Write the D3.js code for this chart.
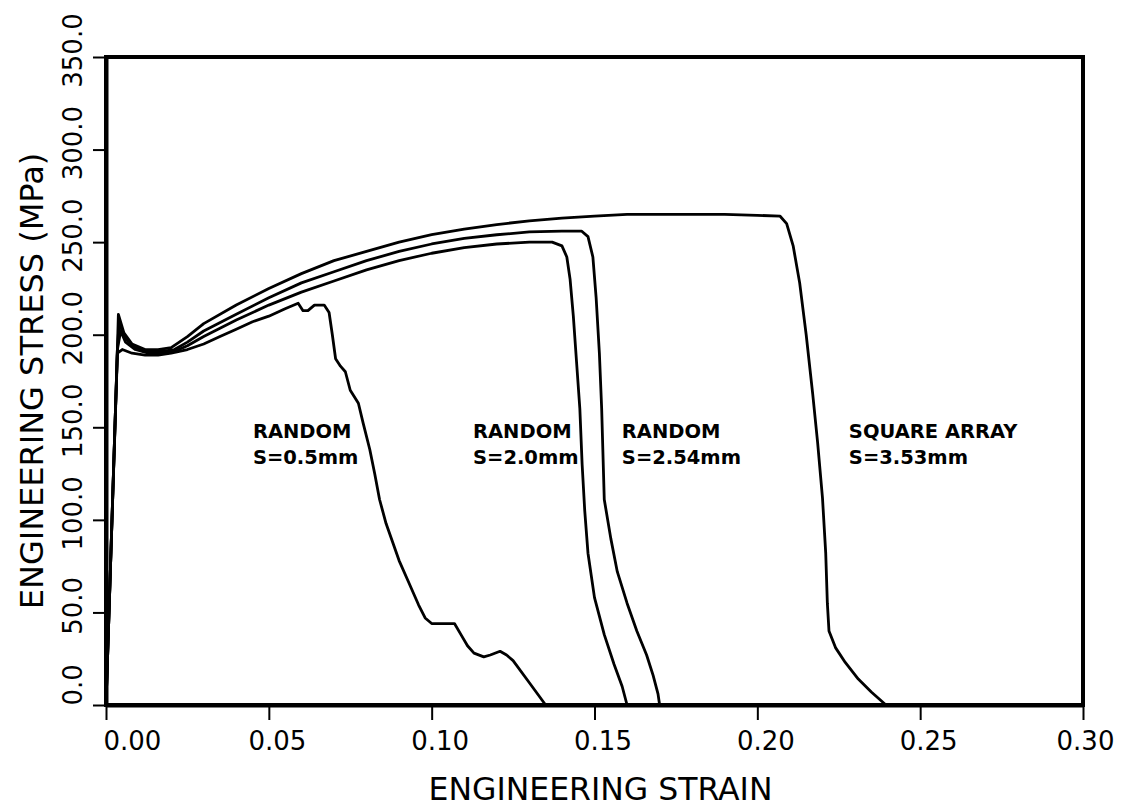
<!DOCTYPE html>
<html>
<head>
<meta charset="utf-8">
<script src="https://cdn.jsdelivr.net/npm/d3@7"></script>
<style>
  body { margin: 0; background: #fff; }
  svg { display: block; }
  text { font-family: "DejaVu Sans", sans-serif; fill: #000; }
</style>
</head>
<body>
<svg id="chart" width="1122" height="808"></svg>
<script>
// axis ticks
let strainTicks = [0, 0.05, 0.10, 0.15, 0.20, 0.25, 0.30];
let stressTicks = [0, 50, 100, 150, 200, 250, 300, 350];

// RANDOM S=0.5mm
let strain05 = [0, 0.0012, 0.0035, 0.005, 0.008, 0.012, 0.016, 0.02, 0.025, 0.03, 0.035, 0.04, 0.045, 0.05, 0.055, 0.059,
    0.0605, 0.062, 0.064, 0.067, 0.0685, 0.0695, 0.0705, 0.072, 0.0735, 0.075, 0.0775, 0.079, 0.081, 0.0825, 0.084, 0.086,
    0.088, 0.09, 0.093, 0.096, 0.098, 0.1, 0.104, 0.107, 0.109, 0.111, 0.113, 0.116, 0.118, 0.121, 0.123, 0.125, 0.13, 0.135];
let stress05 = [0, 65, 190, 192, 190, 189, 189, 190, 192, 195, 199, 203, 207, 210, 214, 217,
    213, 213, 216, 216, 212, 200, 187, 183, 180, 170, 163, 152, 138, 125, 111, 98,
    88, 78, 66, 54, 47, 44, 44, 44, 38, 32, 28, 26, 27, 29, 27, 24, 12, 0];

// RANDOM S=2.0mm
let strain20 = [0, 0.0012, 0.0035, 0.0045, 0.006, 0.009, 0.013, 0.017, 0.021, 0.025, 0.03, 0.04, 0.05, 0.06, 0.07, 0.08,
    0.09, 0.10, 0.11, 0.12, 0.13, 0.137, 0.14, 0.1415, 0.1425, 0.1435, 0.1445, 0.1455, 0.1462, 0.147, 0.148, 0.15, 0.153,
    0.156, 0.1585, 0.160];
let stress20 = [0, 65, 192, 202, 196, 192, 190, 190, 191, 194, 199, 208, 216, 223, 229, 235,
    240, 244, 247, 249, 250, 250, 248, 242, 230, 210, 185, 160, 130, 105, 82, 58, 38,
    22, 10, 0];

// RANDOM S=2.54mm
let strain254 = [0, 0.0012, 0.0035, 0.004, 0.006, 0.009, 0.013, 0.017, 0.021, 0.025, 0.03, 0.04, 0.05, 0.06, 0.07, 0.08,
    0.09, 0.10, 0.11, 0.12, 0.13, 0.14, 0.146, 0.148, 0.1495, 0.1505, 0.1515, 0.1522, 0.153, 0.155, 0.157, 0.16, 0.163,
    0.166, 0.168, 0.1695, 0.170];
let stress254 = [0, 65, 192, 206, 198, 193, 191, 191, 192, 196, 202, 211, 220, 228, 234, 240,
    245, 249, 252, 254, 255.5, 256, 256, 253, 242, 220, 190, 160, 111, 90, 72, 55, 40,
    27, 16, 6, 0];

// SQUARE ARRAY S=3.53mm
let strainSq = [0, 0.0012, 0.0035, 0.0038, 0.0055, 0.008, 0.012, 0.016, 0.02, 0.025, 0.03, 0.04, 0.05, 0.06, 0.07, 0.08,
    0.09, 0.10, 0.11, 0.12, 0.13, 0.14, 0.15, 0.16, 0.17, 0.18, 0.19, 0.2, 0.207, 0.209, 0.211, 0.213, 0.215, 0.217,
    0.2185, 0.22, 0.221, 0.2215, 0.222, 0.224, 0.227, 0.231, 0.235, 0.2395];
let stressSq = [0, 65, 192, 211, 201, 195, 192, 192, 193, 199, 206, 216, 225, 233, 240, 245,
    250, 254, 257, 259.5, 261.5, 263, 264, 265, 265, 265, 265, 264.5, 264, 260, 248, 228, 200, 168,
    142, 112, 82, 55, 40, 31, 23, 14, 7, 0];

// curve labels
let labelLine1 = ["RANDOM", "RANDOM", "RANDOM", "SQUARE ARRAY"];
let labelLine2 = ["S=0.5mm", "S=2.0mm", "S=2.54mm", "S=3.53mm"];
let labelStrain = [0.0451, 0.1127, 0.1584, 0.2281];
let labelStress = 144;

let svg = d3.select("#chart");
let plotLeft = 106, plotRight = 1083, plotTop = 57, plotBottom = 705;

let x = d3.scaleLinear().domain([0, 0.30]).range([plotLeft, plotRight]);
let y = d3.scaleLinear().domain([0, 350]).range([plotBottom, plotTop]);

// frame
svg.append("rect")
    .attr("x", plotLeft).attr("y", plotTop)
    .attr("width", plotRight - plotLeft).attr("height", plotBottom - plotTop)
    .attr("fill", "none").attr("stroke", "#000").attr("stroke-width", 4);

// x axis
let xAxis = svg.append("g")
    .attr("transform", "translate(0," + plotBottom + ")")
    .call(d3.axisBottom(x).tickValues(strainTicks).tickFormat(d3.format(".2f")).tickSize(15).tickSizeOuter(0));
xAxis.select(".domain").attr("stroke-width", 4);
xAxis.selectAll(".tick line").attr("stroke-width", 2);
xAxis.selectAll(".tick text")
    .attr("y", 45).attr("dy", 0)
    .attr("font-size", 26)
    .attr("text-anchor", d => d === 0 ? "start" : "middle")
    .attr("dx", d => d === 0 ? -3 : (d === 0.3 ? 2 : 8));

// y axis
let yAxis = svg.append("g")
    .attr("transform", "translate(" + plotLeft + ",0)")
    .call(d3.axisLeft(y).tickValues(stressTicks).tickFormat(d3.format(".1f")).tickSize(13).tickSizeOuter(0));
yAxis.select(".domain").attr("stroke-width", 4);
yAxis.selectAll(".tick line").attr("stroke-width", 2);
yAxis.selectAll(".tick text")
    .attr("x", 0).attr("y", 0).attr("dy", 0)
    .attr("font-size", 26)
    .attr("transform", "translate(-24,0) rotate(-90)")
    .attr("text-anchor", d => d === 0 ? "start" : "middle")
    .attr("dx", d => d === 0 ? 0 : 7);

// axis titles
svg.append("text")
    .attr("x", (plotLeft + plotRight) / 2 + 6).attr("y", 800)
    .attr("text-anchor", "middle")
    .attr("font-size", 31.5)
    .text("ENGINEERING STRAIN");

svg.append("text")
    .attr("transform", "translate(43,381) rotate(-90)")
    .attr("text-anchor", "middle")
    .attr("font-size", 32)
    .text("ENGINEERING STRESS (MPa)");

// curves
let curves = [
    [strain05, stress05],
    [strain20, stress20],
    [strain254, stress254],
    [strainSq, stressSq]
];

let line = d3.line()
    .x(d => x(d[0]))
    .y(d => y(d[1]));

svg.append("g").selectAll("path")
    .data(curves)
    .enter()
    .append("path")
    .attr("d", c => line(c[0].map((s, i) => [s, c[1][i]])))
    .attr("fill", "none")
    .attr("stroke", "#000")
    .attr("stroke-width", 2.8)
    .attr("stroke-linejoin", "round");

// labels
let lab = svg.append("g").selectAll("text")
    .data(labelStrain)
    .enter()
    .append("text")
    .attr("x", d => x(d))
    .attr("y", y(labelStress))
    .attr("font-size", 19.5)
    .attr("font-weight", "bold");

lab.append("tspan").text((d, i) => labelLine1[i]);
lab.append("tspan")
    .attr("x", d => x(d))
    .attr("dy", 26)
    .text((d, i) => labelLine2[i]);
</script>
</body>
</html>
